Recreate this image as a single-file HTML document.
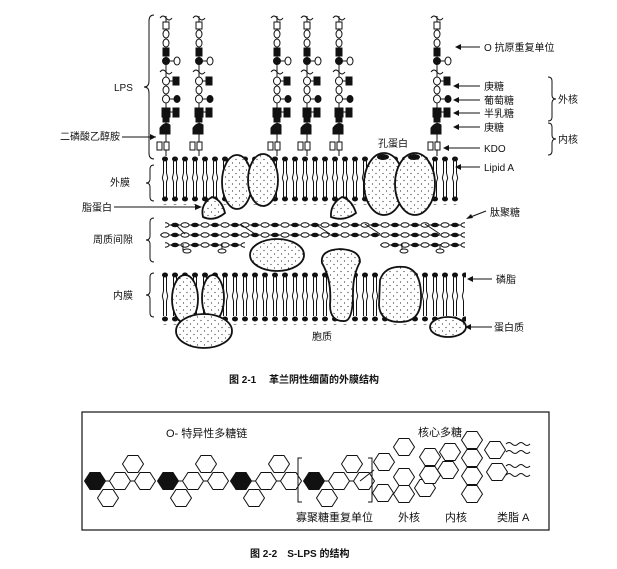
<!DOCTYPE html>
<html><head><meta charset="utf-8"><style>
html,body{margin:0;padding:0;background:#fff;}
svg{display:block}
text{font-family:"Liberation Sans","Noto Sans CJK SC",sans-serif;font-size:10px;fill:#111}
.b{font-weight:bold}
</style></head><body>
<svg width="617" height="569" viewBox="0 0 617 569" xmlns="http://www.w3.org/2000/svg">
<defs>
<pattern id="dots" width="7" height="7" patternUnits="userSpaceOnUse">
<rect width="7" height="7" fill="#fff"/><circle cx="1.5" cy="2" r="0.6" fill="#333"/><circle cx="5" cy="5.5" r="0.6" fill="#333"/>
</pattern>
<pattern id="lip" width="10" height="48" patternUnits="userSpaceOnUse" y="155">
<ellipse cx="5" cy="4" rx="3" ry="2.5" fill="#111"/>
<path d="M3.5,6V18L2.3,23L3.5,27V42M6.5,6V18L7.7,23L6.5,27V42" stroke="#111" stroke-width="1" fill="none"/>
<ellipse cx="5" cy="44" rx="3" ry="2.5" fill="#111"/>
</pattern>
<pattern id="lip2" width="10" height="52" patternUnits="userSpaceOnUse" y="271">
<ellipse cx="5" cy="4" rx="3" ry="2.5" fill="#111"/>
<path d="M3.5,6V20L2.3,25L3.5,30V45M6.5,6V20L7.7,25L6.5,30V45" stroke="#111" stroke-width="1" fill="none"/>
<ellipse cx="5" cy="48" rx="3" ry="2.5" fill="#111"/>
</pattern>
<pattern id="pg" width="20" height="10" patternUnits="userSpaceOnUse">
<line x1="0" y1="5" x2="20" y2="5" stroke="#111"/>
<ellipse cx="5" cy="5" rx="4" ry="2.2" fill="#fff" stroke="#111"/>
<ellipse cx="15" cy="5" rx="4" ry="2.2" fill="#111"/>
</pattern>
<g id="ch" stroke="#111" stroke-width="1" fill="none">
<path d="M-6,18q3,-4 6,0t6,0M-6,72q3,-4 6,0t6,0"/>
<line x1="0" y1="16" x2="0" y2="156"/>
<rect x="-3" y="22" width="6" height="7" fill="#fff"/>
<ellipse cx="0" cy="34" rx="3" ry="4" fill="#fff"/>
<ellipse cx="0" cy="43" rx="3" ry="4" fill="#fff"/>
<rect x="-3" y="48" width="6" height="8" fill="#111"/>
<circle cx="0" cy="61" r="3.5" fill="#111"/>
<line x1="3" y1="61" x2="8" y2="61"/><ellipse cx="11" cy="61" rx="3" ry="4" fill="#fff"/>
<ellipse cx="0" cy="81" rx="3.5" ry="4" fill="#fff"/>
<line x1="3" y1="81" x2="7" y2="81"/><rect x="7" y="77" width="6" height="8" fill="#111"/>
<ellipse cx="0" cy="90" rx="3" ry="4" fill="#fff"/>
<ellipse cx="0" cy="99" rx="3.5" ry="4" fill="#fff"/>
<line x1="3" y1="99" x2="8" y2="99"/><ellipse cx="11" cy="99" rx="3" ry="3.5" fill="#111"/>
<rect x="-4" y="108" width="8" height="9" fill="#111"/>
<line x1="4" y1="112" x2="7" y2="112"/><rect x="7" y="108" width="6" height="9" fill="#111"/>
<rect x="-3" y="117" width="6" height="5" fill="#111"/>
<path d="M-6,134L-6,128Q-1,121 4,125L4,134Z" fill="#111"/>
<rect x="-9" y="142" width="5" height="8" fill="#fff"/>
<rect x="-2" y="142" width="5" height="8" fill="#fff"/>
</g>
<polygon id="hx" points="-10.5,0 -5,-8.5 5,-8.5 10.5,0 5,8.5 -5,8.5" stroke="#111" stroke-width="1"/>
</defs>

<rect x="160" y="155" width="300" height="50" fill="url(#lip)"/>
<rect x="160" y="271" width="306" height="54" fill="url(#lip2)"/>
<rect x="165" y="219" width="300" height="10" fill="url(#pg)"/>
<rect x="160" y="229" width="305" height="10" fill="url(#pg)"/>
<rect x="165" y="239" width="80" height="10" fill="url(#pg)"/>
<rect x="380" y="239" width="85" height="10" fill="url(#pg)"/>
<g stroke="#111"><line x1="175" y1="224" x2="185" y2="234"/><line x1="240" y1="224" x2="255" y2="234"/><line x1="315" y1="224" x2="330" y2="234"/><line x1="365" y1="224" x2="380" y2="234"/><line x1="425" y1="224" x2="440" y2="234"/>
<line x1="183" y1="244" x2="183" y2="251"/><line x1="222" y1="244" x2="222" y2="251"/><line x1="402" y1="244" x2="402" y2="251"/><line x1="440" y1="244" x2="440" y2="251"/></g>
<g fill="#fff" stroke="#111"><ellipse cx="187" cy="251" rx="4" ry="2"/><ellipse cx="222" cy="251" rx="4" ry="2"/><ellipse cx="404" cy="251" rx="4" ry="2"/><ellipse cx="440" cy="251" rx="4" ry="2"/></g>

<use href="#ch" x="166" y="0"/><use href="#ch" x="199" y="0"/><use href="#ch" x="277" y="0"/><use href="#ch" x="307" y="0"/><use href="#ch" x="339" y="0"/><use href="#ch" x="437" y="0"/>

<g fill="url(#dots)" stroke="#111" stroke-width="1.8">
<ellipse cx="237" cy="182" rx="15" ry="27"/>
<ellipse cx="263" cy="180" rx="15" ry="26"/>
<ellipse cx="384" cy="184" rx="20" ry="31"/>
<ellipse cx="415" cy="184" rx="20" ry="31"/>
<path d="M203,217Q200,204 212,197Q222,200 225,213Q214,222 203,217Z"/>
<path d="M331,217Q330,204 342,197Q352,200 356,213Q344,222 331,217Z"/>
<ellipse cx="277" cy="255" rx="27" ry="16"/>
<path d="M322,263Q320,250 340,249Q360,250 360,262Q353,275 353,292Q353,320 345,321Q330,322 330,305Q332,280 322,263Z"/>
<ellipse cx="185" cy="299" rx="13" ry="24"/>
<ellipse cx="213" cy="298" rx="11" ry="23"/>
<path d="M380,280Q385,265 405,267Q422,270 421,300Q420,322 400,322Q380,322 379,305Z"/>
<ellipse cx="204" cy="331" rx="28" ry="17"/>
<ellipse cx="448" cy="327" rx="18" ry="10"/>
</g>
<g fill="#111"><ellipse cx="383" cy="157" rx="6" ry="3"/><ellipse cx="414" cy="157" rx="6" ry="3"/></g>

<g stroke="#111" fill="none">
<path d="M154,15q-5,0 -5,6v60q0,6 -5,6q5,0 5,6v60q0,6 5,6"/>
<path d="M154,165q-4,0 -4,4v10q0,4 -4,4q4,0 4,4v10q0,4 4,4"/>
<path d="M154,218q-4,0 -4,4v14q0,4 -4,4q4,0 4,4v14q0,4 4,4"/>
<path d="M154,273q-4,0 -4,4v14q0,4 -4,4q4,0 4,4v14q0,4 4,4"/>
<line x1="122" y1="137" x2="156" y2="137"/><line x1="114" y1="207" x2="200" y2="207"/>
<line x1="480" y1="47" x2="458" y2="47"/><line x1="480" y1="86" x2="456" y2="86"/><line x1="480" y1="100" x2="456" y2="100"/><line x1="480" y1="113" x2="456" y2="113"/><line x1="480" y1="127" x2="456" y2="127"/>
<line x1="480" y1="148" x2="446" y2="148"/><line x1="480" y1="167" x2="458" y2="167"/>
<path d="M548,77q4,0 4,4v14q0,4 4,4q-4,0 -4,4v14q0,4 -4,4"/>
<path d="M548,123q4,0 4,4v8q0,4 4,4q-4,0 -4,4v8q0,4 -4,4"/>
<line x1="486" y1="211" x2="468" y2="218"/><line x1="492" y1="279" x2="470" y2="279"/><line x1="492" y1="327" x2="468" y2="327"/>
</g>
<g fill="#111"><path d="M156,137l-6,-3v6z"/><path d="M202,207l-7,-3v6z"/><path d="M455,47l6,-3v6z"/><path d="M453,86l6,-3v6z"/><path d="M453,100l6,-3v6z"/><path d="M453,113l6,-3v6z"/><path d="M453,127l6,-3v6z"/><path d="M443,148l6,-3v6z"/><path d="M455,167l6,-3v6z"/><path d="M466,219l5,-5l2,4z"/><path d="M467,279l6,-3v6z"/><path d="M465,327l6,-3v6z"/></g>
<text x="114" y="91">LPS</text>
<text x="60" y="140">二磷酸乙醇胺</text>
<text x="110" y="186">外膜</text>
<text x="82" y="211">脂蛋白</text>
<text x="93" y="243">周质间隙</text>
<text x="113" y="299">内膜</text>
<text x="312" y="340">胞质</text>
<text x="378" y="147">孔蛋白</text>
<text x="484" y="51">O 抗原重复单位</text>
<text x="484" y="90">庚糖</text><text x="484" y="104">葡萄糖</text><text x="484" y="117">半乳糖</text><text x="484" y="131">庚糖</text>
<text x="558" y="103">外核</text><text x="558" y="143">内核</text>
<text x="484" y="152">KDO</text><text x="484" y="171">Lipid  A</text>
<text x="490" y="216">肽聚糖</text><text x="496" y="283">磷脂</text><text x="494" y="331">蛋白质</text>
<text x="229" y="383" class="b">图 2-1　 革兰阴性细菌的外膜结构</text>

<rect x="82" y="412" width="467" height="118" fill="none" stroke="#111" stroke-width="1.2"/>
<g fill="#fff">
<g id="u">
<line x1="95" y1="481" x2="145" y2="481" stroke="#111"/>
<use href="#hx" x="95" y="481" fill="#111"/>
<use href="#hx" x="108" y="498"/>
<use href="#hx" x="120" y="481"/>
<use href="#hx" x="133" y="464"/>
<use href="#hx" x="145" y="481"/>
</g>
<use href="#u" x="73"/><use href="#u" x="146"/><use href="#u" x="219"/>
<use href="#hx" x="384" y="462"/><use href="#hx" x="404" y="447"/><use href="#hx" x="404" y="477"/><use href="#hx" x="404" y="494"/><use href="#hx" x="383" y="493"/><use href="#hx" x="425" y="488"/>
<use href="#hx" x="430" y="457"/><use href="#hx" x="450" y="452"/><use href="#hx" x="448" y="470"/><use href="#hx" x="430" y="475"/>
<use href="#hx" x="472" y="440"/><use href="#hx" x="472" y="458"/><use href="#hx" x="472" y="476"/><use href="#hx" x="472" y="494"/><use href="#hx" x="495" y="450"/><use href="#hx" x="497" y="472"/>
</g>
<g stroke="#111" fill="none">
<line x1="360" y1="481" x2="374" y2="470"/>
<path d="M302,458h-4v44h4M368,458h4v44h-4"/>
<path d="M506,444q3,-3 6,0t6,0t6,0t6,0M506,452q3,-3 6,0t6,0t6,0t6,0M506,466q3,-3 6,0t6,0t6,0t6,0M506,475q3,-3 6,0t6,0t6,0t6,0"/>
</g>
<text x="166" y="437" style="font-size:11px">O- 特异性多糖链</text>
<text x="418" y="436" style="font-size:11px">核心多糖</text>
<text x="296" y="521" style="font-size:11px">寡聚糖重复单位</text>
<text x="398" y="521" style="font-size:11px">外核</text>
<text x="445" y="521" style="font-size:11px">内核</text>
<text x="497" y="521" style="font-size:11px">类脂 A</text>
<text x="250" y="557" class="b">图 2-2　S-LPS 的结构</text>
</svg>
</body></html>
